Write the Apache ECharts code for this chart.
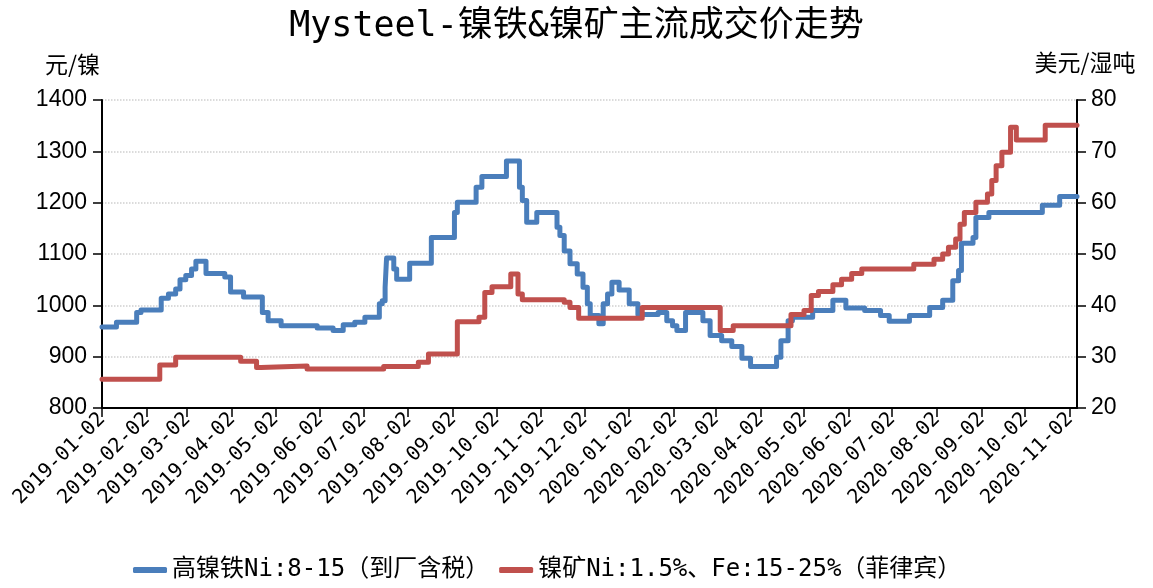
<!DOCTYPE html>
<html>
<head>
<meta charset="utf-8">
<script src="https://cdn.jsdelivr.net/npm/echarts@6/dist/echarts.min.js"></script>
<style>
  html, body { margin: 0; padding: 0; background: #fff; }
  #chart { width: 1153px; height: 588px; }
</style>
</head>
<body>
<div id="chart"></div>
<script>
// month ticks on the x axis
const tickDates = [
  '2019-01-02', '2019-02-02', '2019-03-02', '2019-04-02', '2019-05-02', '2019-06-02',
  '2019-07-02', '2019-08-02', '2019-09-02', '2019-10-02', '2019-11-02', '2019-12-02',
  '2020-01-02', '2020-02-02', '2020-03-02', '2020-04-02', '2020-05-02', '2020-06-02',
  '2020-07-02', '2020-08-02', '2020-09-02', '2020-10-02', '2020-11-02'
];

// 高镍铁 (元/镍) - change points
const ironDates = [
  '2019-01-02', '2019-01-12', '2019-01-26', '2019-01-29', '2019-02-12', '2019-02-17',
  '2019-02-22', '2019-02-25', '2019-03-01', '2019-03-05', '2019-03-08', '2019-03-15',
  '2019-03-28', '2019-04-01', '2019-04-10', '2019-04-23', '2019-04-27', '2019-05-06',
  '2019-05-31', '2019-06-11', '2019-06-18', '2019-06-26', '2019-07-03', '2019-07-13',
  '2019-07-15', '2019-07-17', '2019-07-18', '2019-07-23', '2019-07-25', '2019-08-03',
  '2019-08-18', '2019-09-03', '2019-09-05', '2019-09-18', '2019-09-22', '2019-10-09',
  '2019-10-18', '2019-10-20', '2019-10-23', '2019-10-30', '2019-11-13', '2019-11-15',
  '2019-11-18', '2019-11-22', '2019-11-27', '2019-12-01', '2019-12-04', '2019-12-06',
  '2019-12-12', '2019-12-15', '2019-12-18', '2019-12-21', '2019-12-26', '2020-01-02',
  '2020-01-08', '2020-01-22', '2020-01-28', '2020-02-01', '2020-02-04', '2020-02-10',
  '2020-02-22', '2020-02-27', '2020-03-06', '2020-03-13', '2020-03-20', '2020-03-26',
  '2020-04-13', '2020-04-16', '2020-04-21', '2020-04-24', '2020-05-08', '2020-05-22',
  '2020-05-31', '2020-06-13', '2020-06-24', '2020-06-30', '2020-07-14', '2020-07-28',
  '2020-08-06', '2020-08-13', '2020-08-17', '2020-08-19', '2020-08-27', '2020-08-29',
  '2020-09-07', '2020-10-14', '2020-10-26', '2020-11-07'
];
const ironValues = [
  958, 967, 986, 991, 1014, 1022,
  1032, 1050, 1058, 1071, 1086, 1062,
  1055, 1026, 1016, 986, 970, 960,
  956, 951, 962, 967, 977, 1003,
  1009, 1035, 1092, 1071, 1051, 1082,
  1132, 1181, 1201, 1230, 1251, 1281,
  1230, 1204, 1162, 1181, 1152, 1136,
  1106, 1081, 1061, 1035, 1003, 980,
  964, 1003, 1022, 1045, 1030, 1003,
  982, 986, 970, 960, 951, 986,
  970, 941, 931, 920, 897, 881,
  899, 931, 970, 977, 990, 1010,
  995, 990, 980, 969, 980, 996,
  1010, 1048, 1068, 1121, 1132, 1171,
  1181, 1195, 1212, 1212
];

// 镍矿 (美元/湿吨) - change points
const oreDates = [
  '2019-01-02', '2019-02-11', '2019-02-22', '2019-04-08', '2019-04-19', '2019-04-22',
  '2019-05-24', '2019-07-16', '2019-08-09', '2019-08-16', '2019-09-05', '2019-09-20',
  '2019-09-24', '2019-09-29', '2019-10-12', '2019-10-17', '2019-10-20', '2019-11-18',
  '2019-11-22', '2019-11-28', '2020-01-11', '2020-03-05', '2020-03-14', '2020-04-23',
  '2020-05-02', '2020-05-07', '2020-05-12', '2020-05-22', '2020-05-28', '2020-06-04',
  '2020-06-11', '2020-07-17', '2020-07-31', '2020-08-06', '2020-08-10', '2020-08-15',
  '2020-08-18', '2020-08-21', '2020-08-29', '2020-09-06', '2020-09-09', '2020-09-12',
  '2020-09-16', '2020-09-22', '2020-09-26', '2020-10-16', '2020-11-07'
];
const oreValues = [
  25.6, 28.4, 29.9, 29.1, 27.9, 28.2,
  27.6, 28.1, 28.9, 30.5, 36.8, 37.7,
  42.5, 43.6, 46.1, 42.2, 41.1, 40.6,
  39.6, 37.5, 39.6, 35.1, 36.0, 38.2,
  39.0, 41.9, 42.7, 44.0, 45.1, 46.2,
  47.1, 48.0, 49.0, 50.0, 51.3, 52.9,
  55.8, 58.1, 60.1, 61.7, 64.3, 67.2,
  69.8, 74.7, 72.2, 75.1, 75.1
];

const seriesNames = ['高镍铁Ni:8-15（到厂含税）', '镍矿Ni:1.5%、Fe:15-25%（菲律宾）'];

const chart = echarts.init(document.getElementById('chart'));

const monoFont = "'DejaVu Sans Mono', 'Noto Sans CJK SC', sans-serif";
const toTime = d => echarts.number.parseDate(d).getTime();
const tickTimes = tickDates.map(toTime);
const pad = n => (n < 10 ? '0' : '') + n;
const fmtDate = v => {
  const d = new Date(v);
  return d.getFullYear() + '-' + pad(d.getMonth() + 1) + '-' + pad(d.getDate());
};

const option = {
  backgroundColor: '#fff',
  animation: false,
  title: {
    text: 'Mysteel-镍铁&镍矿主流成交价走势',
    left: 'center',
    top: 4,
    textStyle: {
      fontFamily: monoFont,
      fontSize: 35,
      fontWeight: 'normal',
      color: '#000'
    }
  },
  legend: {
    bottom: 1,
    left: 128,
    itemGap: 10,
    itemWidth: 34,
    itemHeight: 6,
    icon: 'roundRect',
    textStyle: {
      fontFamily: monoFont,
      fontSize: 24,
      color: '#000'
    },
    data: seriesNames
  },
  grid: {
    left: 102,
    right: 76,
    top: 100,
    bottom: 180
  },
  xAxis: {
    type: 'value',
    min: toTime('2019-01-02'),
    max: toTime('2020-11-07'),
    axisLine: { lineStyle: { color: '#000', width: 2 } },
    axisTick: {
      show: true,
      length: 9,
      customValues: tickTimes,
      lineStyle: { color: '#000', width: 1.5 }
    },
    axisLabel: {
      customValues: tickTimes,
      rotate: 45,
      margin: 8,
      fontFamily: monoFont,
      fontSize: 20,
      color: '#000',
      formatter: fmtDate
    },
    splitLine: { show: false }
  },
  yAxis: [
    {
      type: 'value',
      min: 800,
      max: 1400,
      interval: 100,
      name: '元/镍',
      nameLocation: 'end',
      nameGap: 24,
      nameTextStyle: {
        fontFamily: "'Noto Sans CJK SC', sans-serif",
        fontSize: 23,
        color: '#000',
        align: 'right',
        padding: [0, 2, 0, 0]
      },
      axisLine: { show: true, lineStyle: { color: '#000', width: 2 } },
      axisTick: { show: true, length: 9, lineStyle: { color: '#000', width: 1.5 } },
      axisLabel: {
        fontFamily: "'Liberation Sans', Arial, sans-serif",
        fontSize: 23,
        color: '#000',
        margin: 15,
        formatter: v => String(v)
      },
      splitLine: {
        show: true,
        lineStyle: { color: '#cfcfcf', type: 'dotted', width: 1.5 }
      }
    },
    {
      type: 'value',
      min: 20,
      max: 80,
      interval: 10,
      name: '美元/湿吨',
      nameLocation: 'end',
      nameGap: 26,
      nameTextStyle: {
        fontFamily: "'Noto Sans CJK SC', sans-serif",
        fontSize: 23,
        color: '#000',
        align: 'center',
        padding: [0, 0, 0, 16]
      },
      axisLine: { show: true, lineStyle: { color: '#000', width: 2 } },
      axisTick: { show: true, length: 9, lineStyle: { color: '#000', width: 1.5 } },
      axisLabel: {
        fontFamily: "'Liberation Sans', Arial, sans-serif",
        fontSize: 23,
        color: '#000',
        margin: 14
      },
      splitLine: { show: false }
    }
  ],
  series: [
    {
      name: seriesNames[0],
      type: 'line',
      yAxisIndex: 0,
      step: 'end',
      showSymbol: false,
      symbol: 'none',
      color: '#4a7ebb',
      lineStyle: { width: 5, color: '#4a7ebb', cap: 'round', join: 'round' },
      data: ironDates.map((d, i) => [toTime(d), ironValues[i]])
    },
    {
      name: seriesNames[1],
      type: 'line',
      yAxisIndex: 1,
      step: 'end',
      showSymbol: false,
      symbol: 'none',
      color: '#c0504d',
      lineStyle: { width: 5, color: '#c0504d', cap: 'round', join: 'round' },
      data: oreDates.map((d, i) => [toTime(d), oreValues[i]])
    }
  ]
};

chart.setOption(option);
</script>
</body>
</html>
